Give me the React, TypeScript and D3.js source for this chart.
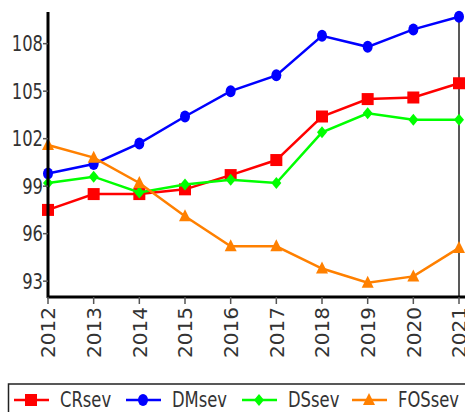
import React from "react";
import * as d3 from "d3";

const years = ["2012","2013","2014","2015","2016","2017","2018","2019","2020","2021"];
const crsev = [97.5, 98.5, 98.5, 98.8, 99.7, 100.65, 103.4, 104.5, 104.6, 105.5];
const dmsev = [99.8, 100.4, 101.7, 103.4, 105.0, 106.0, 108.5, 107.8, 108.9, 109.7];
const dssev = [99.2, 99.6, 98.6, 99.1, 99.4, 99.2, 102.4, 103.6, 103.2, 103.2];
const fossev = [101.6, 100.8, 99.2, 97.1, 95.2, 95.2, 93.8, 92.9, 93.3, 95.1];
const yTicks = [93, 96, 99, 102, 105, 108];
const seriesNames = ["CRsev", "DMsev", "DSsev", "FOSsev"];
const seriesColors = ["#ff0000", "#0000ff", "#00ff00", "#ff8000"];
const seriesShapes = ["square", "circle", "diamond", "triangle"];

const W = 465, H = 412;
const x0 = 48, x1 = 459, yTop = 12, yBot = 297;

function Marker({ shape, cx, cy, color }: { shape: string; cx: number; cy: number; color: string }) {
  if (shape === "square") return <rect x={cx - 6} y={cy - 6} width={12} height={12} fill={color} />;
  if (shape === "circle") return <ellipse cx={cx} cy={cy} rx={5} ry={6} fill={color} />;
  if (shape === "diamond") return <path d={`M${cx},${cy - 6}L${cx + 5},${cy}L${cx},${cy + 6}L${cx - 5},${cy}Z`} fill={color} />;
  return <path d={`M${cx},${cy - 7}L${cx + 6},${cy + 5}L${cx - 6},${cy + 5}Z`} fill={color} />;
}

export default function App() {
  const x = d3.scalePoint<string>().domain(years).range([x0, x1]);
  const y = d3.scaleLinear().domain([92, 110]).range([yBot, yTop]);
  const data = [crsev, dmsev, dssev, fossev];
  const line = d3.line<number>().x((_, i) => x(years[i]) as number).y((v) => y(v));
  const legendX = [14, 126, 242, 352];
  const font = "'DejaVu Sans', sans-serif";
  const sx = 0.8;
  return (
    <svg width={W} height={H} style={{ position: "absolute", left: 0, top: 0, background: "#fff" }}>
      <rect x={0} y={0} width={W} height={H} fill="#fff" />
      <line x1={x1} x2={x1} y1={yTop} y2={yBot} stroke="#222" strokeWidth={1.5} />
      {data.map((vals, si) => (
        <g key={si}>
          <path d={line(vals) || ""} fill="none" stroke={seriesColors[si]} strokeWidth={2.5} />
          {vals.map((v, i) => (
            <Marker key={i} shape={seriesShapes[si]} cx={x(years[i]) as number} cy={y(v)} color={seriesColors[si]} />
          ))}
        </g>
      ))}
      <line x1={x0} x2={x0} y1={yTop} y2={yBot + 1} stroke="#000" strokeWidth={3} />
      <line x1={x0 - 1} x2={W} y1={yBot} y2={yBot} stroke="#000" strokeWidth={3} />
      {yTicks.map((t) => (
        <g key={t}>
          <line x1={x0 - 5} x2={x0} y1={y(t)} y2={y(t)} stroke="#555" strokeWidth={1.5} />
          <text transform={`translate(${x0 - 5},${y(t)}) scale(${sx},1)`} dy="0.36em" textAnchor="end" fontFamily={font} fontSize={20.5} fill="#333">{t}</text>
        </g>
      ))}
      {years.map((yr) => {
        const px = x(yr) as number;
        return (
          <g key={yr}>
            <line x1={px} x2={px} y1={yBot} y2={yBot + 7} stroke="#555" strokeWidth={1.5} />
            <text transform={`translate(${px},${yBot + 10}) rotate(-90)`} textAnchor="end" dy="0.36em" fontFamily={font} fontSize={20} fill="#333">{yr}</text>
          </g>
        );
      })}
      <rect x={8.5} y={384} width={470} height={40} fill="#fff" stroke="#222" strokeWidth={1.5} />
      {seriesNames.map((n, i) => (
        <g key={n}>
          <line x1={legendX[i]} x2={legendX[i] + 35} y1={400} y2={400} stroke={seriesColors[i]} strokeWidth={2.5} />
          <Marker shape={seriesShapes[i]} cx={legendX[i] + 17} cy={400} color={seriesColors[i]} />
          <text transform={`translate(${legendX[i] + 46},400) scale(${sx},1)`} dy="0.36em" fontFamily={font} fontSize={20.5} fill="#333">{n}</text>
        </g>
      ))}
    </svg>
  );
}
